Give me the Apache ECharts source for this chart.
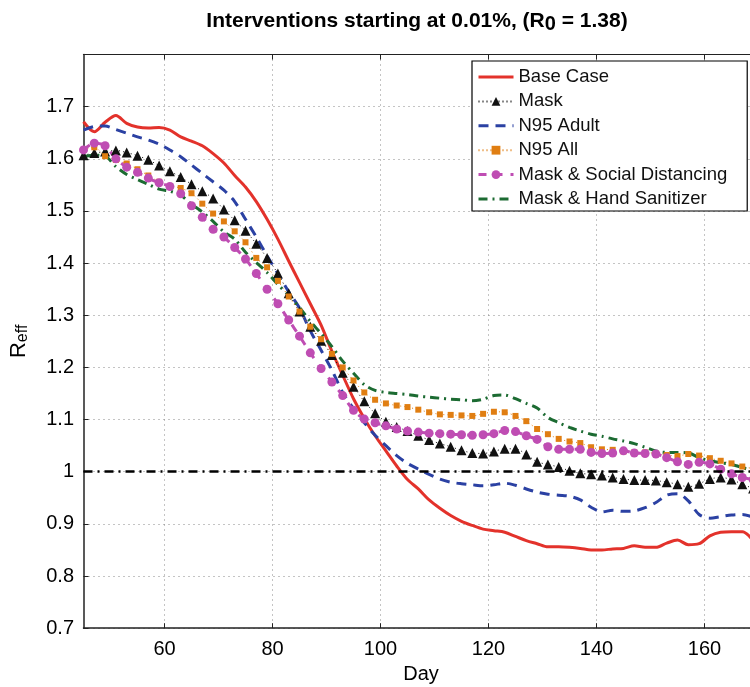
<!DOCTYPE html>
<html><head><meta charset="utf-8">
<script src="https://cdn.jsdelivr.net/npm/echarts@6/dist/echarts.min.js"></script>
<style>html,body{margin:0;padding:0;background:#fff}#c{width:750px;height:687px}</style>
</head><body><div id="c"></div>
<script>
const days = [45,47,49,51,53,55,57,59,61,63,65,67,69,71,73,75,77,79,81,83,85,87,89,91,93,95,97,99,101,103,105,107,109,111,113,115,117,119,121,123,125,127,129,131,133,135,137,139,141,143,145,147,149,151,153,155,157,159,161,163,165,167,169];

const baseCase = [1.671,1.652,1.670,1.683,1.668,1.661,1.659,1.660,1.655,1.642,1.634,1.625,1.610,1.592,1.568,1.546,1.518,1.484,1.446,1.404,1.363,1.322,1.281,1.231,1.185,1.140,1.102,1.069,1.040,1.011,0.985,0.967,0.946,0.930,0.916,0.905,0.897,0.890,0.887,0.884,0.876,0.868,0.862,0.856,0.856,0.855,0.853,0.850,0.850,0.852,0.853,0.858,0.855,0.855,0.863,0.869,0.860,0.862,0.877,0.884,0.885,0.885,0.868];

const mask = [1.607,1.611,1.614,1.616,1.612,1.606,1.598,1.587,1.576,1.565,1.551,1.538,1.524,1.503,1.482,1.462,1.437,1.410,1.380,1.342,1.307,1.278,1.251,1.224,1.190,1.163,1.135,1.112,1.096,1.086,1.078,1.069,1.061,1.054,1.048,1.041,1.036,1.035,1.039,1.044,1.044,1.033,1.019,1.014,1.009,1.002,0.997,0.995,0.993,0.989,0.986,0.984,0.984,0.983,0.980,0.976,0.971,0.977,0.986,0.989,0.985,0.976,0.968];

const n95Adult = [1.655,1.662,1.663,1.656,1.649,1.642,1.636,1.628,1.617,1.604,1.588,1.572,1.556,1.540,1.518,1.484,1.450,1.414,1.380,1.345,1.314,1.270,1.233,1.195,1.152,1.121,1.094,1.070,1.050,1.031,1.016,1.005,0.995,0.986,0.980,0.977,0.975,0.973,0.975,0.978,0.974,0.967,0.961,0.957,0.955,0.953,0.946,0.932,0.923,0.926,0.924,0.925,0.931,0.941,0.955,0.958,0.944,0.918,0.911,0.914,0.917,0.918,0.913];

const n95All = [1.617,1.622,1.605,1.598,1.591,1.580,1.568,1.556,1.548,1.544,1.534,1.514,1.495,1.480,1.461,1.440,1.410,1.392,1.366,1.336,1.307,1.278,1.254,1.226,1.200,1.175,1.152,1.138,1.131,1.127,1.124,1.119,1.114,1.110,1.109,1.108,1.107,1.111,1.115,1.114,1.107,1.097,1.082,1.072,1.063,1.058,1.055,1.047,1.043,1.042,1.039,1.037,1.037,1.035,1.032,1.030,1.034,1.031,1.026,1.021,1.016,1.010,1.006];

const maskSocial = [1.617,1.630,1.625,1.600,1.584,1.574,1.563,1.554,1.547,1.533,1.510,1.488,1.465,1.450,1.430,1.408,1.380,1.350,1.322,1.291,1.260,1.228,1.198,1.172,1.146,1.118,1.101,1.094,1.088,1.082,1.078,1.076,1.074,1.073,1.072,1.071,1.070,1.071,1.073,1.079,1.077,1.069,1.062,1.048,1.043,1.043,1.043,1.037,1.035,1.036,1.040,1.036,1.035,1.034,1.027,1.019,1.014,1.018,1.015,1.005,0.996,0.989,0.985];

const maskHand = [1.604,1.607,1.605,1.585,1.570,1.560,1.551,1.542,1.538,1.530,1.513,1.498,1.480,1.460,1.446,1.421,1.401,1.382,1.359,1.338,1.315,1.288,1.265,1.240,1.212,1.189,1.167,1.156,1.152,1.150,1.148,1.145,1.143,1.141,1.139,1.138,1.136,1.139,1.146,1.147,1.140,1.131,1.122,1.104,1.094,1.085,1.078,1.072,1.068,1.063,1.059,1.054,1.047,1.040,1.037,1.037,1.036,1.027,1.021,1.017,1.014,1.008,1.002];

const refLevel = [1.0];
const xTicks = [60,80,100,120,140,160];
const seriesNames = ['Base Case','Mask','N95 Adult','N95 All','Mask & Social Distancing','Mask & Hand Sanitizer'];

const pair = vals => days.map((d, i) => [d, vals[i]]);
const FONT = 'Liberation Sans, Arial, sans-serif';
const NOSYM = 'rgba(0,0,0,0)';

const chart = echarts.init(document.getElementById('c'), null, {renderer: 'canvas'});
chart.setOption({
  animation: false,
  backgroundColor: '#fff',
  title: {
    text: '{t|Interventions starting at 0.01%, (R}{s|0}{t| = 1.38)}',
    left: 412, top: 3, textAlign: 'center',
    textStyle: {
      rich: {
        t: {fontFamily: FONT, fontWeight: 'bold', fontSize: 21, color: '#000', lineHeight: 26},
        s: {fontFamily: FONT, fontWeight: 'bold', fontSize: 20, color: '#000', lineHeight: 26, verticalAlign: 'bottom', padding: [14, 0, 0, 0]}
      }
    }
  },
  grid: {left: 83.5, right: -8.5, top: 54.5, bottom: 58.8, outerBoundsMode: 'none', containLabel: false},
  legend: {
    orient: 'vertical',
    left: 472, top: 61,
    padding: [6, 20, 2, 5],
    itemWidth: 35, itemHeight: 11, itemGap: 4.4,
    backgroundColor: '#fff',
    borderColor: '#000', borderWidth: 1.2,
    textStyle: {fontFamily: FONT, fontSize: 18.5, lineHeight: 20, color: '#111'},
    data: [
      {name: seriesNames[0], lineStyle: {width: 3}},
      {name: seriesNames[1]},
      {name: seriesNames[2], lineStyle: {width: 3}},
      {name: seriesNames[3]},
      {name: seriesNames[4], lineStyle: {width: 3}},
      {name: seriesNames[5], lineStyle: {width: 3}}
    ]
  },
  xAxis: [{
    type: 'value', min: 45, max: 170,
    name: 'Day', nameLocation: 'middle', nameGap: 34,
    nameTextStyle: {fontFamily: FONT, fontSize: 20, color: '#000'},
    axisLine: {show: true, onZero: false, lineStyle: {color: '#222', width: 1.5}},
    axisTick: {show: true, inside: true, length: 5, customValues: xTicks, lineStyle: {color: '#222'}},
    axisLabel: {customValues: xTicks, fontFamily: FONT, fontSize: 20, color: '#000', margin: 11},
    splitLine: {show: true, lineStyle: {color: '#888', type: [1, 4], width: 1}}
  }, {
    type: 'value', min: 45, max: 170, position: 'top',
    axisLine: {show: true, onZero: false, lineStyle: {color: '#222', width: 1.2}},
    axisTick: {show: true, inside: true, length: 5, customValues: xTicks, lineStyle: {color: '#222'}},
    axisLabel: {show: false},
    splitLine: {show: false}
  }],
  yAxis: {
    type: 'value', min: 0.7, max: 1.8, interval: 0.1,
    name: '{r|R}{s|eff}', nameLocation: 'middle', nameGap: 53, nameRotate: 90,
    nameTextStyle: {
      rich: {
        r: {fontFamily: FONT, fontSize: 22, color: '#000', lineHeight: 24},
        s: {fontFamily: FONT, fontSize: 16, color: '#000', lineHeight: 24, verticalAlign: 'bottom', padding: [12, 0, 0, 0]}
      }
    },
    axisLine: {show: true, onZero: false, lineStyle: {color: '#222', width: 1.5}},
    axisTick: {show: true, inside: true, length: 5, lineStyle: {color: '#222'}},
    axisLabel: {
      showMaxLabel: false,
      fontFamily: FONT, fontSize: 20, color: '#000', margin: 9.5,
      formatter: v => String(Number(v.toFixed(1)))
    },
    splitLine: {show: true, lineStyle: {color: '#888', type: [1, 4], width: 1}}
  },
  series: [
    {
      name: seriesNames[0], type: 'line', data: pair(baseCase),
      symbol: 'none', smooth: 0.3,
      lineStyle: {color: '#e3322b', width: 3},
      itemStyle: {color: NOSYM},
      markLine: {
        silent: true, symbol: ['none', 'none'], label: {show: false},
        lineStyle: {color: '#000', width: 2.5, type: [9, 5, 2, 5]},
        data: refLevel.map(v => ({yAxis: v}))
      }
    },
    {
      name: seriesNames[1], type: 'line', data: pair(mask),
      symbol: 'triangle', symbolSize: 10, showSymbol: true, smooth: 0.3,
      lineStyle: {color: '#111', width: 1, type: [1, 3]},
      itemStyle: {color: '#111'}
    },
    {
      name: seriesNames[2], type: 'line', data: pair(n95Adult),
      symbol: 'none', smooth: 0.3,
      lineStyle: {color: '#2b41a3', width: 3, type: [10, 7]},
      itemStyle: {color: NOSYM}
    },
    {
      name: seriesNames[3], type: 'line', data: pair(n95All),
      symbol: 'rect', symbolSize: 6, showSymbol: true, smooth: 0.3,
      lineStyle: {color: '#e07e12', width: 1, type: [1, 3]},
      itemStyle: {color: '#e07e12'}
    },
    {
      name: seriesNames[4], type: 'line', data: pair(maskSocial),
      symbol: 'circle', symbolSize: 9, showSymbol: true, smooth: 0.3,
      lineStyle: {color: '#bf4db3', width: 3, type: [8, 8]},
      itemStyle: {color: '#bf4db3'}
    },
    {
      name: seriesNames[5], type: 'line', data: pair(maskHand),
      symbol: 'none', smooth: 0.3,
      lineStyle: {color: '#1c6b32', width: 3, type: [9, 5, 2, 5]},
      itemStyle: {color: NOSYM}
    }
  ]
});
</script></body></html>
